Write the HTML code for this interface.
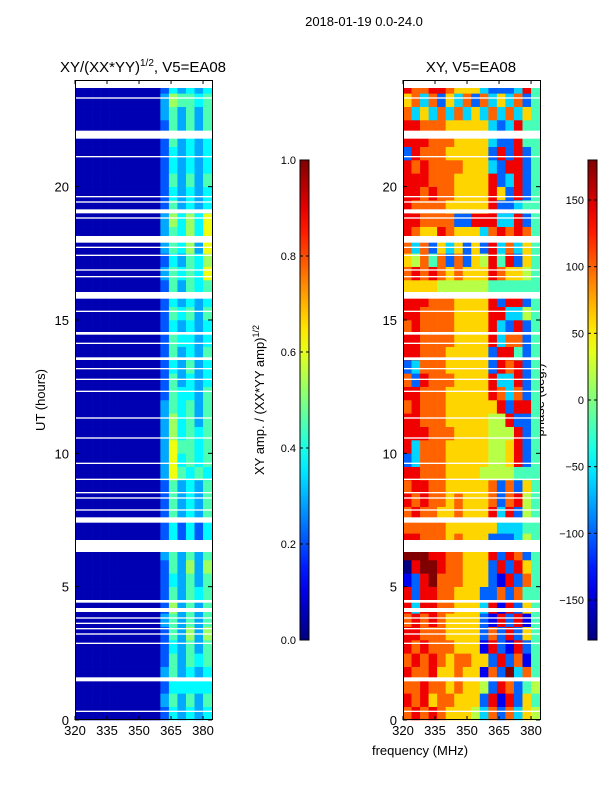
<!DOCTYPE html>
<html><head><meta charset="utf-8"><style>
body{margin:0;background:#fff;}
svg{display:block;font-family:"Liberation Sans",sans-serif;}
</style></head><body>
<svg id="fig" width="600" height="800">
<text x="364" y="26" font-size="13" text-anchor="middle">2018-01-19 0.0-24.0</text>
<text x="143" y="72" font-size="15" text-anchor="middle">XY/(XX*YY)<tspan font-size="10" dy="-6">1/2</tspan><tspan dy="6">, V5=EA08</tspan></text>
<text x="471" y="72" font-size="15" text-anchor="middle">XY, V5=EA08</text>
<text transform="translate(45,400) rotate(-90)" font-size="13" text-anchor="middle">UT (hours)</text>
<text x="420" y="755" font-size="13" text-anchor="middle">frequency (MHz)</text>
<text transform="translate(264,400) rotate(-90)" font-size="13" text-anchor="middle">XY amp. / (XX*YY amp)<tspan font-size="9" dy="-5">1/2</tspan></text>
<text transform="translate(544,400) rotate(-90)" font-size="13" text-anchor="middle">phase (deg.)</text>
<g id="p1"></g>
<g id="p2"></g>
<g id="cb1"></g>
<g id="cb2"></g>
</svg>
<script>
// frequency columns (MHz start of each 4 MHz bin), time rows 0.5h each from 0h upward
const freqStart = [320,324,328,332,336,340,344,348,352,356,360,364,368,372,376,380];
const xTicks = [320,335,350,365,380];
const yTicks = [0,5,10,15,20];
const ampTicks = [0.0,0.2,0.4,0.6,0.8,1.0];
const phaseTicks = [-150,-100,-50,0,50,100,150];
const ampRows = [
"0000000000243434","0000000000353535","0000000000244444","0000000000353434",
"0000000000253545","0000000000243535","0000000000253636","0000000000353535",
"0000000000263535","0000000000253545","0000000000243535","0000000000253636",
"0000000000353535","0000000000242424","0000000000242424","0000000000253435",
"0000000000253435","0000000000253435","0000000000375454","0000000000374545",
"0000000000375545","0000000000364545","0000000000364535","0000000000354535",
"0000000000254435","0000000000253434","0000000000243534","0000000000253435",
"0000000000254434","0000000000243434","0000000000254535","0000000000243434",
"0000000000253545","0000000000354547","0000000000243546","0000000000354637",
"0000000000354647","0000000000364647","0000000000253434","0000000000243434",
"0000000000253535","0000000000243434","0000000000243434","0000000000253434",
"0000000000253535","0000000000353535","0000000000365545","0000000000243434"];
const phaseRows = [
"7878766653727365","8786776662818264","7787767665287245","8778667661729374",
"7878767766282714","8787776661821824","8877766662728264","7878766662182814",
"8388776663818264","8288776662272744","1289777666218274","0899877666282864",
"9998877666828724","8877767666222354","7777766666633344","7877667666838254",
"8787767666727854","7887766666727264","8877766665555444","2377766666556824",
"8377766666556824","8887776666555824","8877766666558224","7877766666682884",
"8877766666873724","7287776666833824","2377766666287824","8877766666288424",
"8877776666837724","7877776666832824","8877776666883354","8887776666828824",
"6666555555444444","7878767666876654","6574727265848264","7372636262837364",
"8766876663787874","8877772288833824","8777766666822344","8878776666862824",
"8887776666823824","8787777666328824","2877766666282824","8887776666322844",
"8877766666323844","7363737363737364","6737263727363724","8778876663222384"];
const gapStart = [0.3,1.45,2.85,3.2,3.4,3.6,3.8,4.05,4.4,6.3,7.4,7.85,8.3,8.5,9.0,9.6,10.55,11.3,12.3,12.75,13.15,13.5,14.1,14.45,15.3,15.8,16.6,16.85,17.4,17.7,17.9,18.8,19.0,19.4,19.6,21.1,21.8,23.3,23.7];
const gapEnd   = [0.35,1.6,2.9,3.25,3.45,3.65,3.85,4.2,4.5,6.75,7.6,7.9,8.35,8.55,9.05,9.65,10.6,11.35,12.35,12.8,13.2,13.6,14.15,14.55,15.35,16.05,16.65,16.9,17.45,17.75,18.15,18.85,19.15,19.45,19.65,21.15,22.1,23.35,24.0];

const NS="http://www.w3.org/2000/svg";
function mk(t,a,p){const e=document.createElementNS(NS,t);for(const k in a)e.setAttribute(k,a[k]);p.appendChild(e);return e;}
function cl(v){return Math.max(0,Math.min(1,v));}
function jet(x){const r=cl(1.5-Math.abs(4*x-3)),g=cl(1.5-Math.abs(4*x-2)),b=cl(1.5-Math.abs(4*x-1));return `rgb(${Math.round(r*255)},${Math.round(g*255)},${Math.round(b*255)})`;}
const yTop=80,yBot=720,W=137,fMin=320,fMax=384.2;
function yS(h){return yBot-(h/24)*(yBot-yTop);}

function panel(gid,x0,rows,valFn,name){
  const g=document.getElementById(gid);
  const xS=f=>x0+(f-fMin)/(fMax-fMin)*W;
  rows.forEach((row,ri)=>{
    for(let c=0;c<row.length;c++){
      const f0=freqStart[c],f1=c+1<freqStart.length?freqStart[c+1]:fMax;
      const r=mk('rect',{x:xS(f0),y:yS(ri*0.5+0.5),width:xS(f1)-xS(f0)+0.3,height:yS(ri*0.5)-yS(ri*0.5+0.5)+0.3,fill:jet(valFn(+row[c]))},g);
      
      
    }
  });
  gapStart.forEach((s,i)=>{
    const r=mk('rect',{x:x0,y:yS(gapEnd[i]),width:W,height:yS(s)-yS(gapEnd[i]),fill:'#fff'},g);
    
    
  });
  const fr=mk('rect',{x:x0+0.5,y:yTop+0.5,width:W,height:yBot-yTop-1,fill:'none',stroke:'#000','stroke-width':1},g);
  
  
  xTicks.forEach(t=>{
    const x=xS(t);
    mk('line',{x1:x,x2:x,y1:yBot,y2:yBot-4,stroke:'#000'},g);
    mk('line',{x1:x,x2:x,y1:yTop,y2:yTop+4,stroke:'#000'},g);
    const tx=mk('text',{x:x,y:yBot+15,'font-size':13,'text-anchor':'middle'},g);tx.textContent=t;
    
    
  });
  yTicks.forEach(t=>{
    const y=yS(t);
    mk('line',{x1:x0,x2:x0+4,y1:y,y2:y,stroke:'#000'},g);
    mk('line',{x1:x0+W,x2:x0+W-4,y1:y,y2:y,stroke:'#000'},g);
    const tx=mk('text',{x:x0-6,y:y+5,'font-size':13,'text-anchor':'end'},g);tx.textContent=t;
    
    
  });
}
panel('p1',75,ampRows,d=>d*0.08+0.05,'amp');
panel('p2',403,phaseRows,d=>d/9,'phase');

function colorbar(gid,x0,ticks,vmin,vmax,fmt,id){
  const g=document.getElementById(gid);
  const defs=mk('defs',{},g);
  const lg=mk('linearGradient',{id:id,x1:0,y1:1,x2:0,y2:0},defs);
  for(let i=0;i<=20;i++)mk('stop',{offset:i/20,'stop-color':jet(i/20)},lg);
  const y0=160,y1=640,w=9;
  const r=mk('rect',{x:x0,y:y0,width:w,height:y1-y0,fill:`url(#${id})`,stroke:'#000','stroke-width':1},g);
  
  
  ticks.forEach(t=>{
    const y=y1-(t-vmin)/(vmax-vmin)*(y1-y0);
    mk('line',{x1:x0,x2:x0+3,y1:y,y2:y,stroke:'#000'},g);
    mk('line',{x1:x0+w,x2:x0+w-3,y1:y,y2:y,stroke:'#000'},g);
    const tx=mk('text',{x:x0-4,y:y+4,'font-size':11,'text-anchor':'end'},g);tx.textContent=fmt(t);
    
    
  });
}
colorbar('cb1',300,ampTicks,0,1,t=>t.toFixed(1),'g1');
colorbar('cb2',588,phaseTicks,-180,180,t=>t<0?'\u2212'+(-t):String(t),'g2');
</script>
</body></html>
